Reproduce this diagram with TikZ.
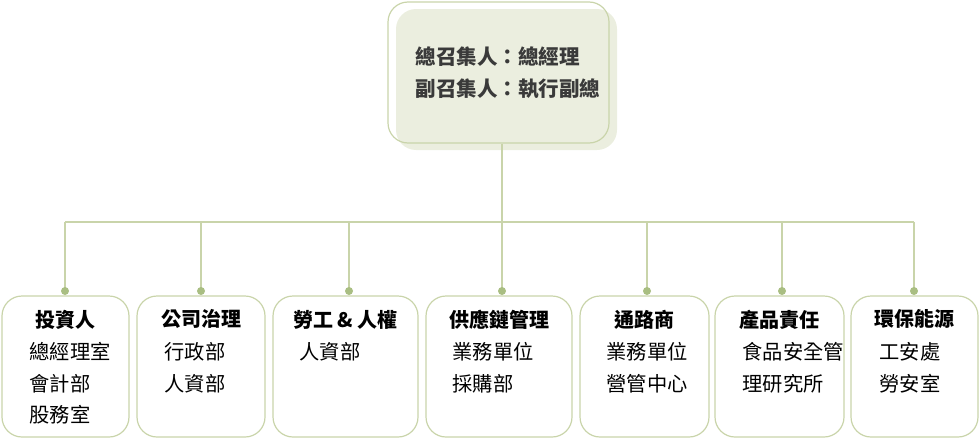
\documentclass[tikz,border=0pt]{standalone}
\usepackage{fontspec}
\setmainfont{Noto Sans CJK TC}
\usepackage{tikz}
\usetikzlibrary{
    calc,
    shadows
}
\definecolor{edge}{HTML}{C9D4AA}
\definecolor{knob}{HTML}{A9BE82}
\definecolor{leadfill}{HTML}{EBEEDF}
\definecolor{leadtext}{HTML}{3A3A3A}
\tikzset{
    unit/.style={draw=edge,line width=0.9pt,rounded corners=15pt,minimum height=105.75pt},
    head/.style={font=\fontsize{15}{18}\selectfont\bfseries,inner sep=0pt},
    duty/.style={font=\fontsize{15.2}{23.6}\selectfont,align=left,inner sep=0pt,anchor=north west},
    link/.style={draw=edge,line width=1.1pt}
}

\begin{document}
\begin{tikzpicture}[x=0.75pt,y=-0.75pt]
        \useasboundingbox (0,0) rectangle (980,439);

        % convenor
        \draw (498.5,72.5) node[unit,minimum width=165.75pt,
            copy shadow={shadow xshift=6pt,shadow yshift=-5.25pt,draw=none,fill=leadfill}](lead){};
        \draw ([xshift=21pt]lead.west) node[anchor=west,align=left,inner sep=0pt,text=leadtext,
            font=\fontsize{15.4}{24}\selectfont\bfseries](leadtxt){總召集人：總經理\\副召集人：執行副總};

        % groups
        \draw (65.5,366.5)  node[unit,minimum width=95.25pt](inv){};
        \draw (201,366.5)   node[unit,minimum width=96pt](gov){};
        \draw (345.5,366.5) node[unit,minimum width=108.75pt](lab){};
        \draw (499,366.5)   node[unit,minimum width=109.5pt](sup){};
        \draw (644.5,366.5) node[unit,minimum width=96.75pt](chn){};
        \draw (779.5,366.5) node[unit,minimum width=96.75pt](prd){};
        \draw (914.5,366.5) node[unit,minimum width=95.25pt](env){};

        \draw ($(inv.north)+(0,24)$) node[head](invh){投資人};
        \draw ($(gov.north)+(0,24)$) node[head](govh){公司治理};
        \draw ($(lab.north)+(0,24)$) node[head](labh){勞工 \& 人權};
        \draw ($(sup.north)+(0,24)$) node[head](suph){供應鏈管理};
        \draw ($(chn.north)+(0,24)$) node[head](chnh){通路商};
        \draw ($(prd.north)+(0,24)$) node[head](prdh){產品責任};
        \draw ($(env.north)+(0,24)$) node[head](envh){環保能源};

        \draw ($(inv.north west)+(28,47)$) node[duty](invd){總經理室\\會計部\\股務室};
        \draw ($(gov.north west)+(28,47)$) node[duty](govd){行政部\\人資部};
        \draw ($(lab.north west)+(27,47)$) node[duty](labd){人資部};
        \draw ($(sup.north west)+(27,47)$) node[duty](supd){業務單位\\採購部};
        \draw ($(chn.north west)+(27,47)$) node[duty](chnd){業務單位\\營管中心};
        \draw ($(prd.north west)+(28,47)$) node[duty](prdd){食品安全管\\理研究所};
        \draw ($(env.north west)+(29,47)$) node[duty](envd){工安處\\勞安室};

        % tree
        \coordinate (bus) at (502,222);
        \coordinate (k1) at (65,291);
        \coordinate (k2) at (201,291);
        \coordinate (k3) at (349,291);
        \coordinate (k4) at (502,291);
        \coordinate (k5) at (647,291);
        \coordinate (k6) at (782,291);
        \coordinate (k7) at (914,291);

        \draw[link] (lead.south -| bus) -- (bus);
        \draw[link] (k1 |- bus) -- (k7 |- bus);
        \foreach \k in {k1,k2,k3,k4,k5,k6,k7}{
            \draw[link] (\k |- bus) -- (\k);
            \fill[knob] (\k) circle (3pt);
        }
    \end{tikzpicture}
\end{document}
